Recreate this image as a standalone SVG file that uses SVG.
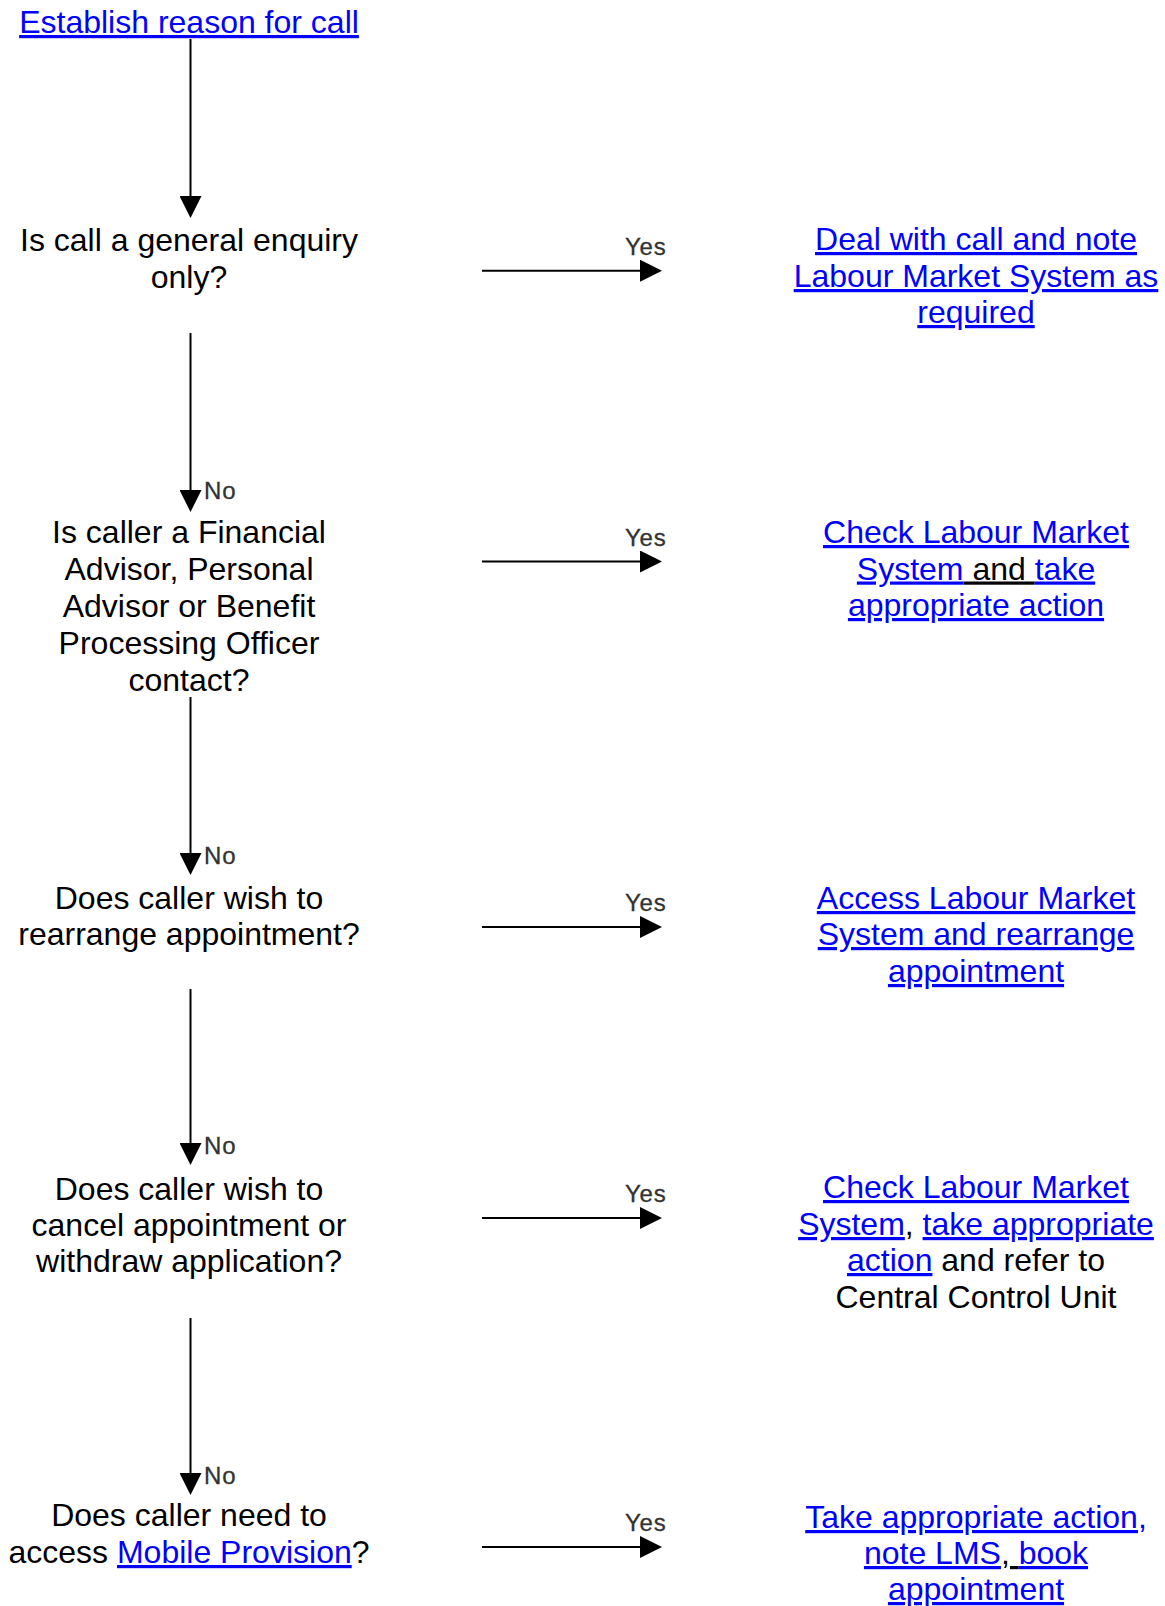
<svg xmlns="http://www.w3.org/2000/svg" width="1165" height="1606" viewBox="0 0 1165 1606">
<style>
.t{font-family:"Liberation Sans",Arial,sans-serif;font-size:32px;fill:#000;text-anchor:middle}
.lk{fill:#0000FF;text-decoration:underline;text-decoration-thickness:2.5px}
.ul{text-decoration:underline;text-decoration-thickness:2.5px}
.lbl{font-family:"Liberation Sans",Arial,sans-serif;font-size:24px;letter-spacing:0.8px;fill:#333;stroke:#333;stroke-width:0.3}
.ln{stroke:#000;stroke-width:2;fill:none}
</style>
<defs>
<marker id="ah" viewBox="0 0 22 22" refX="2" refY="11" markerWidth="22" markerHeight="22" orient="auto" markerUnits="userSpaceOnUse">
<path d="M0,0 L22,11 L0,22 Z" fill="#000"/>
</marker>
</defs>
<rect width="1165" height="1606" fill="#fff"/>
<g id="connectors">
<path class="ln" d="M190.5,39 V198" marker-end="url(#ah)"/>
<path class="ln" d="M190.5,333 V492" marker-end="url(#ah)"/>
<path class="ln" d="M190.5,697 V855" marker-end="url(#ah)"/>
<path class="ln" d="M190.5,989 V1145" marker-end="url(#ah)"/>
<path class="ln" d="M190.5,1318 V1475" marker-end="url(#ah)"/>
<path class="ln" d="M482,270.7 H642" marker-end="url(#ah)"/>
<path class="ln" d="M482,561.5 H642" marker-end="url(#ah)"/>
<path class="ln" d="M482,927 H642" marker-end="url(#ah)"/>
<path class="ln" d="M482,1218 H642" marker-end="url(#ah)"/>
<path class="ln" d="M482,1547 H642" marker-end="url(#ah)"/>
<text class="lbl" x="204" y="499">No</text>
<text class="lbl" x="204" y="864">No</text>
<text class="lbl" x="204" y="1154">No</text>
<text class="lbl" x="204" y="1484">No</text>
<text class="lbl" x="625" y="255">Yes</text>
<text class="lbl" x="625" y="546">Yes</text>
<text class="lbl" x="625" y="911">Yes</text>
<text class="lbl" x="625" y="1202">Yes</text>
<text class="lbl" x="625" y="1531">Yes</text>
</g>
<g id="start">
<text class="t" x="189" y="33"><tspan class="lk">Establish reason for call</tspan></text>
</g>
<g id="q1">
<text class="t" x="189" y="251">Is call a general enquiry</text>
<text class="t" x="189" y="288">only?</text>
</g>
<g id="a1">
<text class="t" x="976" y="250"><tspan class="lk">Deal with call and note</tspan></text>
<text class="t" x="976" y="287"><tspan class="lk">Labour Market System as</tspan></text>
<text class="t" x="976" y="323"><tspan class="lk">required</tspan></text>
</g>
<g id="q2">
<text class="t" x="189" y="543">Is caller a Financial</text>
<text class="t" x="189" y="580">Advisor, Personal</text>
<text class="t" x="189" y="617">Advisor or Benefit</text>
<text class="t" x="189" y="654">Processing Officer</text>
<text class="t" x="189" y="691">contact?</text>
</g>
<g id="a2">
<text class="t" x="976" y="543"><tspan class="lk">Check Labour Market</tspan></text>
<text class="t" x="976" y="579.5"><tspan class="lk">System</tspan><tspan class="ul"> and </tspan><tspan class="lk">take</tspan></text>
<text class="t" x="976" y="616"><tspan class="lk">appropriate action</tspan></text>
</g>
<g id="q3">
<text class="t" x="189" y="909">Does caller wish to</text>
<text class="t" x="189" y="945">rearrange appointment?</text>
</g>
<g id="a3">
<text class="t" x="976" y="909"><tspan class="lk">Access Labour Market</tspan></text>
<text class="t" x="976" y="945"><tspan class="lk">System and rearrange</tspan></text>
<text class="t" x="976" y="982"><tspan class="lk">appointment</tspan></text>
</g>
<g id="q4">
<text class="t" x="189" y="1200">Does caller wish to</text>
<text class="t" x="189" y="1236">cancel appointment or</text>
<text class="t" x="189" y="1272">withdraw application?</text>
</g>
<g id="a4">
<text class="t" x="976" y="1198"><tspan class="lk">Check Labour Market</tspan></text>
<text class="t" x="976" y="1235"><tspan class="lk">System</tspan>, <tspan class="lk">take appropriate</tspan></text>
<text class="t" x="976" y="1271"><tspan class="lk">action</tspan> and refer to</text>
<text class="t" x="976" y="1308">Central Control Unit</text>
</g>
<g id="q5">
<text class="t" x="189" y="1526">Does caller need to</text>
<text class="t" x="189" y="1563">access <tspan class="lk">Mobile Provision</tspan>?</text>
</g>
<g id="a5">
<text class="t" x="976" y="1528"><tspan class="lk">Take appropriate action,</tspan></text>
<text class="t" x="976" y="1564"><tspan class="lk">note LMS</tspan><tspan class="ul">, </tspan><tspan class="lk">book</tspan></text>
<text class="t" x="976" y="1600"><tspan class="lk">appointment</tspan></text>
</g>
</svg>
